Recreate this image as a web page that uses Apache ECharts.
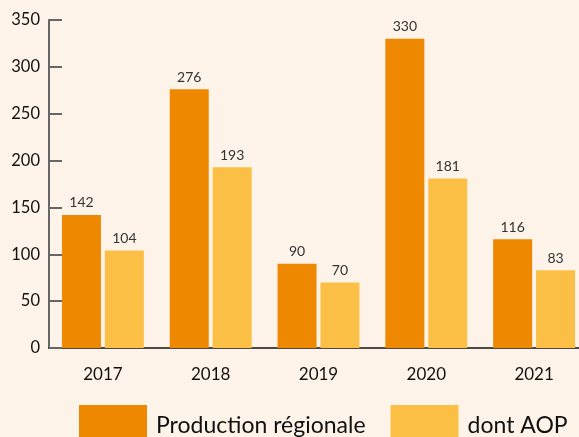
<!DOCTYPE html>
<html>
<head>
<meta charset="utf-8">
<script src="https://cdn.jsdelivr.net/npm/echarts@6/dist/echarts.min.js"></script>
<style>
  html, body { margin: 0; padding: 0; background: #fdf3e8; overflow: hidden; }
  /* un peu plus large que la fenêtre : l'original est coupé à droite */
  #main { width: 592px; height: 437px; }
</style>
</head>
<body>
<div id="main"></div>
<script>
// données
var years = ['2017', '2018', '2019', '2020', '2021'];
var production = [142, 276, 90, 330, 116];
var aop = [104, 193, 70, 181, 83];
var yTicks = [0, 50, 100, 150, 200, 250, 300, 350];

var font = 'Lato, "Open Sans", sans-serif';
var chart = echarts.init(document.getElementById('main'));

chart.setOption({
  backgroundColor: '#fdf3e8',
  textStyle: { fontFamily: font },
  grid: { left: 49, right: 4, top: 20, bottom: 89, containLabel: false },
  legend: {
    left: 74,
    top: 400,
    width: 560,
    itemWidth: 68,
    itemHeight: 41,
    itemGap: 25,
    icon: 'rect',
    textStyle: { fontSize: 23, color: '#111', fontFamily: font, padding: [0, 0, 0, 4] },
    data: ['Production régionale', 'dont AOP']
  },
  xAxis: {
    type: 'category',
    data: years,
    axisLine: { lineStyle: { color: '#111', width: 1.5 } },
    axisTick: { inside: true, length: 9, lineStyle: { color: '#555', width: 1.5 } },
    axisLabel: { fontSize: 17, color: '#111', margin: 18 }
  },
  yAxis: {
    type: 'value',
    min: yTicks[0],
    max: yTicks[yTicks.length - 1],
    interval: 50,
    splitLine: { show: false },
    axisLine: { show: true, lineStyle: { color: '#666', width: 2 } },
    axisTick: { show: true, inside: true, length: 13, lineStyle: { color: '#666', width: 2 } },
    axisLabel: { fontSize: 16.5, color: '#111', margin: 9, padding: [9, 0, 0, 0] }
  },
  series: [
    {
      name: 'Production régionale',
      type: 'bar',
      data: production,
      barWidth: 39,
      barGap: '10%',
      itemStyle: { color: '#ee8800' },
      label: { show: true, position: 'top', fontSize: 14, color: '#333', distance: 5 }
    },
    {
      name: 'dont AOP',
      type: 'bar',
      data: aop,
      barWidth: 39,
      itemStyle: { color: '#fbbf45' },
      label: { show: true, position: 'top', fontSize: 14, color: '#333', distance: 5 }
    }
  ]
});
</script>
</body>
</html>
